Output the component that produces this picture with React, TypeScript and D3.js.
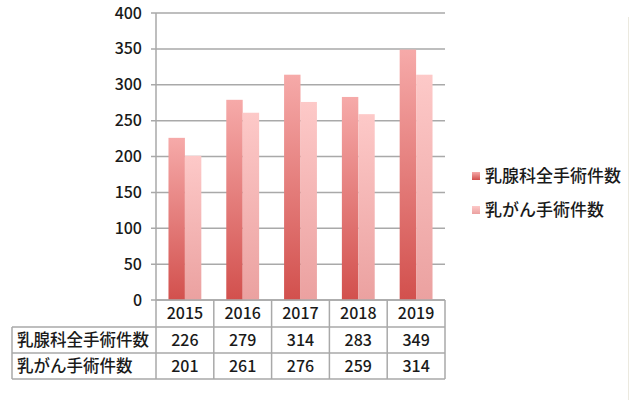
import React from "react";
import * as d3 from "d3";

const years = ["2015", "2016", "2017", "2018", "2019"];
const seriesNames = ["乳腺科全手術件数", "乳がん手術件数"];
const allSurgeries = [226, 279, 314, 283, 349];
const cancerSurgeries = [201, 261, 276, 259, 314];
const yTicks = [0, 50, 100, 150, 200, 250, 300, 350, 400];

const W = 630, H = 400;
const left = 156, right = 445, top = 13, bottom = 300;
const FONT = "'Noto Sans CJK JP', 'Noto Sans', sans-serif";
const GRID = "#a9a9a9";
const TXT = "#1a1a1a";

export default function App() {
  const x = d3.scaleBand<string>().domain(years).range([left, right]).paddingInner(0).paddingOuter(0);
  const inner = d3.scaleBand<number>().domain([0, 1]).range([0, x.bandwidth()]).paddingOuter(0.76).paddingInner(0);
  const y = d3.scaleLinear().domain([0, 400]).range([bottom, top]);
  const series = [allSurgeries, cancerSurgeries];
  const rowTops = [bottom, 327, 353, 379];
  const tableLeft = 12;

  return (
    <svg width={W} height={H} style={{ position: "absolute", left: 0, top: 0, background: "#fff" }} fontFamily={FONT} fontWeight={500}>
      <defs>
        <linearGradient id="g0" x1="0" y1="0" x2="0" y2="1">
          <stop offset="0" stopColor="#f6aaa9" />
          <stop offset="1" stopColor="#d2504d" />
        </linearGradient>
        <linearGradient id="g1" x1="0" y1="0" x2="0" y2="1">
          <stop offset="0" stopColor="#fdc9c8" />
          <stop offset="1" stopColor="#eba1a0" />
        </linearGradient>
      </defs>
      <line x1={628.5} x2={628.5} y1={17} y2={H} stroke="#ebe9df" strokeWidth={1} />
      {yTicks.map((t) => (
        <g key={t}>
          <line x1={left - 5} x2={right} y1={y(t)} y2={y(t)} stroke={GRID} strokeWidth={1.5} />
          <text x={142} y={y(t)} dy="0.35em" textAnchor="end" fontSize={16} fill={TXT}>{t}</text>
        </g>
      ))}
      <line x1={left} x2={left} y1={top} y2={bottom} stroke={GRID} strokeWidth={1.5} />
      {series.map((vals, si) =>
        years.map((yr, i) => (
          <rect
            key={si + "-" + yr}
            x={(x(yr) as number) + (inner(si) as number)}
            y={y(vals[i])}
            width={inner.bandwidth()}
            height={bottom - y(vals[i])}
            fill={`url(#g${si})`}
          />
        ))
      )}
      <g stroke={GRID} strokeWidth={1.5} fill="none">
        <line x1={left} x2={right} y1={bottom} y2={bottom} />
        {[1, 2, 3].map((r) => (
          <line key={r} x1={tableLeft} x2={right} y1={rowTops[r]} y2={rowTops[r]} />
        ))}
        <line x1={tableLeft} x2={tableLeft} y1={rowTops[1]} y2={rowTops[3]} />
        <line x1={left} x2={left} y1={bottom} y2={rowTops[3]} />
        {years.map((yr) => (
          <line key={yr} x1={(x(yr) as number) + x.bandwidth()} x2={(x(yr) as number) + x.bandwidth()} y1={bottom} y2={rowTops[3]} />
        ))}
      </g>
      {years.map((yr) => (
        <text key={yr} x={(x(yr) as number) + x.bandwidth() / 2} y={(rowTops[0] + rowTops[1]) / 2} dy="0.36em" textAnchor="middle" fontSize={16} fill={TXT}>{yr}</text>
      ))}
      {series.map((vals, si) => (
        <g key={si}>
          <text x={17} y={(rowTops[si + 1] + rowTops[si + 2]) / 2} dy="0.36em" fontSize={16.5} fill={TXT}>{seriesNames[si]}</text>
          {years.map((yr, i) => (
            <text key={yr} x={(x(yr) as number) + x.bandwidth() / 2} y={(rowTops[si + 1] + rowTops[si + 2]) / 2} dy="0.36em" textAnchor="middle" fontSize={16} fill={TXT}>{vals[i]}</text>
          ))}
        </g>
      ))}
      {seriesNames.map((n, si) => (
        <g key={n} transform={`translate(472, ${176 + si * 34})`}>
          <rect x={0} y={-4} width={8} height={8} fill={`url(#g${si})`} />
          <text x={13} y={0} dy="0.36em" fontSize={17} fill={TXT}>{n}</text>
        </g>
      ))}
    </svg>
  );
}
